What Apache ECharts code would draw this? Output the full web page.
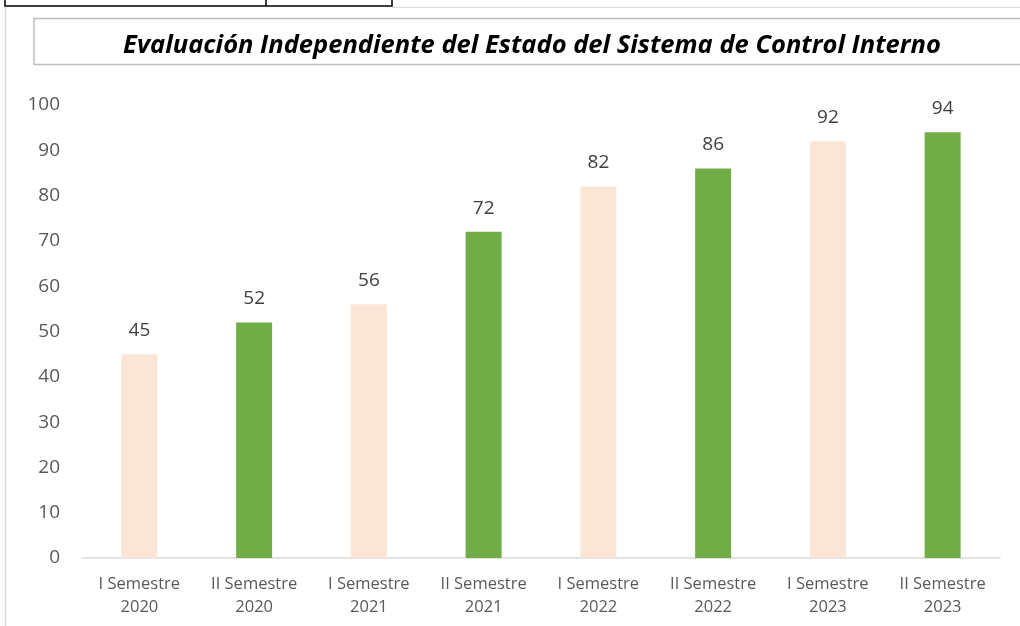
<!DOCTYPE html>
<html><head><meta charset="utf-8">
<script src="https://cdn.jsdelivr.net/npm/echarts@6/dist/echarts.min.js"></script>
<style>html,body{margin:0;padding:0;background:#fff}#c{width:1020px;height:626px}</style>
</head><body><div id="c"></div>
<script>
const categories = ['I Semestre\n2020','II Semestre\n2020','I Semestre\n2021','II Semestre\n2021','I Semestre\n2022','II Semestre\n2022','I Semestre\n2023','II Semestre\n2023'];
const values = [45, 52, 56, 72, 82, 86, 92, 94];
const barColors = ['#FBE5D6','#70AD47','#FBE5D6','#70AD47','#FBE5D6','#70AD47','#FBE5D6','#70AD47'];
const titleText = 'Evaluación Independiente del Estado del Sistema de Control Interno';

const chart = echarts.init(document.getElementById('c'), null, {renderer:'canvas'});
const font = 'Open Sans, Noto Sans, sans-serif';
chart.setOption({
  animation:false,
  backgroundColor:'#fff',
  graphic:[
    {type:'rect', shape:{x:5,y:-4,width:387,height:10}, style:{fill:'none',stroke:'#000',lineWidth:1.5}},
    {type:'line', shape:{x1:266,y1:-2,x2:266,y2:6}, style:{stroke:'#000',lineWidth:1.5}},
    {type:'line', shape:{x1:392,y1:7.5,x2:1020,y2:7.5}, style:{stroke:'#d9d9d9',lineWidth:1}},
    {type:'line', shape:{x1:5.5,y1:7,x2:5.5,y2:626}, style:{stroke:'#d9d9d9',lineWidth:1.5}},
    {type:'rect', shape:{x:34,y:18.5,width:1000,height:46}, style:{fill:'none',stroke:'#bfbfbf',lineWidth:1.5}},
    {type:'text', x:532, y:46, style:{text:titleText, fill:'#000', font:'italic bold 25.5px '+font, align:'center', verticalAlign:'middle'}}
  ],
  grid:{left:82, right:20, top:105, bottom:68, containLabel:false},
  xAxis:{type:'category', data:categories,
    axisLine:{lineStyle:{color:'#d9d9d9',width:1.5}}, axisTick:{show:false},
    axisLabel:{color:'#595959', fontSize:16.5, fontFamily:font, lineHeight:23, margin:15, interval:0}},
  yAxis:{type:'value', min:0, max:100, interval:10,
    axisLine:{show:false}, axisTick:{show:false}, splitLine:{show:false},
    axisLabel:{color:'#595959', fontSize:19, fontFamily:font, margin:22}},
  series:[{type:'bar', barWidth:36,
    data: values.map((v,i)=>({value:v, itemStyle:{color:barColors[i]}})),
    label:{show:true, position:'top', distance:14, color:'#404040', fontSize:19, fontFamily:font}}]
});
</script></body></html>
